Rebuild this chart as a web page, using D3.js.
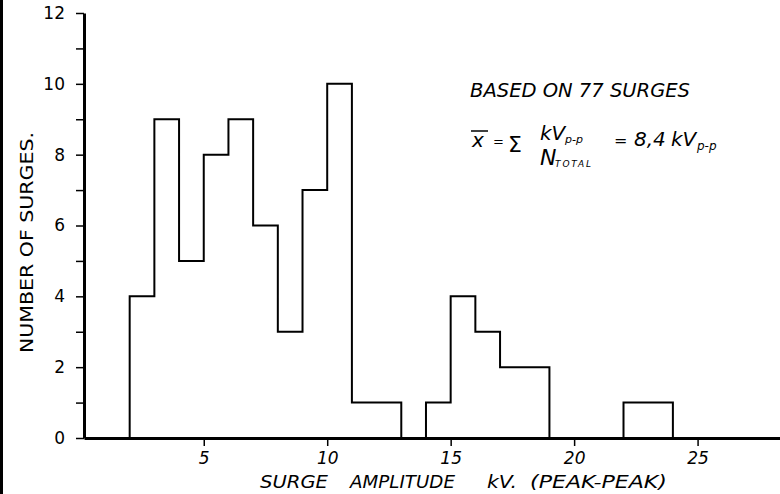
<!DOCTYPE html>
<html>
<head>
<meta charset="utf-8">
<script src="https://cdn.jsdelivr.net/npm/d3@7"></script>
<style>
    html, body { margin: 0; padding: 0; background: #fff; }
    svg { display: block; font-family: "DejaVu Sans", sans-serif; }
</style>
</head>
<body>
<div id="surge-histogram"></div>
<script>
// lower edge of each 1 kV bin, and the number of surges in it
var binStart = [2, 3, 4, 5, 6, 7, 8, 9, 10, 11, 12, 13, 14, 15, 16, 17, 18, 19, 20, 21, 22, 23];
var binEnd = 24;
var surgeCount = [4, 9, 5, 8, 9, 6, 3, 7, 10, 1, 1, 0, 1, 4, 3, 2, 2, 0, 0, 0, 1, 1];

var xTicks = [5, 10, 15, 20, 25];
var yTicks = [0, 2, 4, 6, 8, 10, 12];
var yMinorTicks = [1, 3, 5, 7, 9, 11];

(function () {
    "use strict";

    var vWidth = 780, vHeight = 494;

    var svg = d3.select("#surge-histogram")
        .append("svg")
        .attr("width", vWidth)
        .attr("height", vHeight);

    // scan edge on the left side
    svg.append("rect")
        .attr("x", 0).attr("y", 0)
        .attr("width", 3).attr("height", vHeight)
        .attr("fill", "#000");

    var x = d3.scaleLinear()
        .domain([0.15, 28.5])
        .range([84, 784]);
    var y = d3.scaleLinear()
        .domain([0, 12])
        .range([438, 13]);

    // minor y ticks (no labels)
    svg.append("g")
        .attr("transform", "translate(84,0)")
        .call(d3.axisLeft(y).tickValues(yMinorTicks).tickSize(8).tickFormat(""))
        .call(function (g) { g.select(".domain").remove(); })
        .selectAll("line").attr("stroke-width", 1.5);

    // y axis
    var gy = svg.append("g")
        .attr("transform", "translate(84,0)")
        .call(d3.axisLeft(y).tickValues(yTicks).tickSize(8).tickSizeOuter(0).tickPadding(11));
    gy.select(".domain").attr("stroke-width", 3);
    gy.selectAll(".tick line").attr("stroke-width", 1.5);
    gy.selectAll(".tick text")
        .attr("font-size", 17)
        .attr("font-family", "DejaVu Sans")
        .attr("fill", "#000");

    // x axis
    var gx = svg.append("g")
        .attr("transform", "translate(0," + y(0) + ")")
        .call(d3.axisBottom(x).tickValues(xTicks).tickSize(8).tickSizeOuter(0).tickPadding(6));
    gx.select(".domain").attr("stroke-width", 3);
    gx.selectAll(".tick line").attr("stroke-width", 1.5);
    gx.selectAll(".tick text")
        .attr("font-size", 17)
        .attr("font-style", "italic")
        .attr("font-family", "DejaVu Sans")
        .attr("fill", "#000");

    // histogram outline as one stepped line
    var vPoints = [[binStart[0], 0]];
    binStart.forEach(function (aStart, i) {
        vPoints.push([aStart, surgeCount[i]]);
    });
    vPoints.push([binEnd, 0]);

    var vLine = d3.line()
        .x(function (d) { return x(d[0]); })
        .y(function (d) { return y(d[1]); })
        .curve(d3.curveStepAfter);

    svg.append("path")
        .datum(vPoints)
        .attr("d", vLine)
        .attr("fill", "none")
        .attr("stroke", "#000")
        .attr("stroke-width", 2);

    // axis titles
    svg.append("text")
        .attr("transform", "translate(33,353)rotate(-90)")
        .attr("font-size", 18)
        .attr("textLength", 221)
        .attr("lengthAdjust", "spacingAndGlyphs")
        .text("NUMBER OF SURGES.");

    var vXTitle = [
        { t: "SURGE", x: 260, w: 68 },
        { t: "AMPLITUDE", x: 350, w: 105 },
        { t: "kV.", x: 487, w: 30 },
        { t: "(PEAK-PEAK)", x: 530, w: 137 }
    ];
    svg.selectAll("text.xtitle")
        .data(vXTitle)
        .enter()
        .append("text")
            .attr("class", "xtitle")
            .attr("x", function (d) { return d.x; })
            .attr("y", 488)
            .attr("font-size", 18)
            .attr("font-style", "italic")
            .attr("textLength", function (d) { return d.w; })
            .attr("lengthAdjust", "spacingAndGlyphs")
            .text(function (d) { return d.t; });

    // annotation
    var note = svg.append("g")
        .attr("font-style", "italic")
        .attr("fill", "#000");

    note.append("text")
        .attr("x", 470).attr("y", 97)
        .attr("font-size", 19)
        .attr("textLength", 220)
        .attr("lengthAdjust", "spacingAndGlyphs")
        .text("BASED  ON 77  SURGES");

    // mean formula
    note.append("text").attr("x", 472).attr("y", 147).attr("font-size", 20).text("x");
    note.append("line")
        .attr("x1", 471).attr("x2", 488)
        .attr("y1", 131).attr("y2", 131)
        .attr("stroke", "#000").attr("stroke-width", 1.5);
    note.append("text").attr("x", 493).attr("y", 146).attr("font-size", 13).text("=");
    note.append("text").attr("x", 508).attr("y", 152).attr("font-size", 22)
        .attr("font-style", "normal").text("\u03A3");

    note.append("text").attr("x", 540).attr("y", 140).attr("font-size", 20).text("kV");
    note.append("text").attr("x", 565).attr("y", 143).attr("font-size", 11).text("p-p");
    note.append("text").attr("x", 540).attr("y", 165).attr("font-size", 22).text("N");
    note.append("text").attr("x", 555).attr("y", 167).attr("font-size", 9)
        .attr("textLength", 36).text("TOTAL");

    note.append("text").attr("x", 614).attr("y", 146).attr("font-size", 16).text("=");
    note.append("text").attr("x", 634).attr("y", 146).attr("font-size", 20).text("8,4");
    note.append("text").attr("x", 671).attr("y", 146).attr("font-size", 20).text("kV");
    note.append("text").attr("x", 697).attr("y", 150).attr("font-size", 12).text("p-p");
})();
</script>
</body>
</html>
